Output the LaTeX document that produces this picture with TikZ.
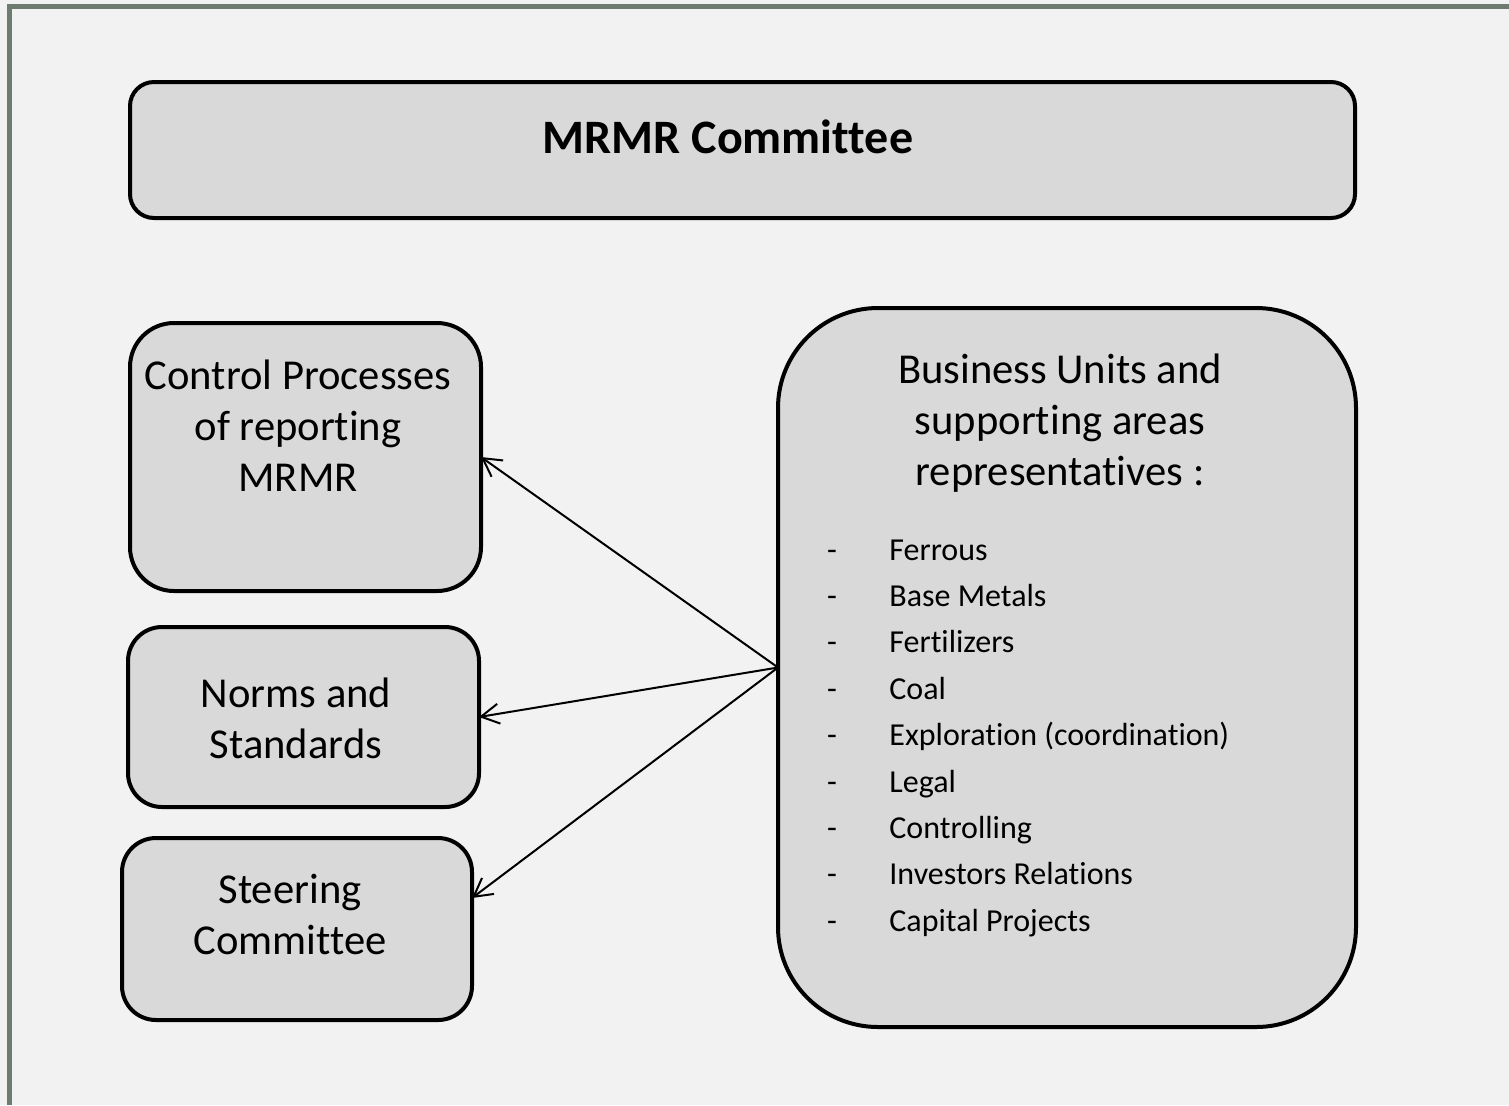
\documentclass[tikz,border=0pt]{standalone}
\usepackage{fontspec}
\setmainfont{Carlito}[Ligatures=NoCommon]
\usetikzlibrary{arrows.meta}
\definecolor{bgc}{HTML}{F2F2F2}
\definecolor{boxc}{HTML}{D9D9D9}
\definecolor{framec}{HTML}{6E7B70}
\tikzset{
  box/.style={draw=black, fill=boxc, line width=2pt, inner sep=0pt, outer sep=0pt},
  big/.style={font=\fontsize{21.3}{25.5}\selectfont, align=center, inner sep=0pt, anchor=north},
  item/.style={font=\fontsize{16}{19}\selectfont, anchor=base west, inner sep=0pt},
  dashitem/.style={font=\fontsize{16}{19}\selectfont, anchor=base, inner sep=0pt},
  conn/.style={line width=1pt, -{Straight Barb[length=9pt,width=10pt,line width=1pt]}},
}
\begin{document}
\begin{tikzpicture}[x=0.5pt,y=-0.5pt]
\useasboundingbox (0,0) rectangle (1509,1105);
\fill[bgc] (0,0) rectangle (1509,1105);
\draw[framec, line width=2.5pt] (9.5,1105) -- (9.5,6.5) -- (1509,6.5);
% boxes
\node[box, rounded corners=12pt, minimum width=612.5pt, minimum height=68pt] (top) at (742.5,150) {};
\node[box, rounded corners=22pt, minimum width=175.5pt, minimum height=134pt] (ctrl) at (305.5,457) {};
\node[box, rounded corners=17pt, minimum width=175.5pt, minimum height=90pt] (norms) at (303.5,717) {};
\node[box, rounded corners=17pt, minimum width=175pt, minimum height=91pt] (steer) at (297,929) {};
\node[box, rounded corners=50pt, minimum width=289pt, minimum height=359.5pt] (bu) at (1067,667.5) {};
% texts
\node[font=\fontsize{24}{29}\selectfont\bfseries, inner sep=0pt] (ttl) at (728,137) {MRMR Committee};
\node[big] (ctxt) at (298,360) {Control Processes\\of reporting\\MRMR};
\node[big] (ntxt) at (296,678) {Norms and\\Standards};
\node[big] (stxt) at (290,874) {Steering\\Committee};
\node[big] (btxt) at (1060,354) {Business Units and\\supporting areas\\representatives :};
\foreach \t [count=\i from 0] in {Ferrous,Base Metals,Fertilizers,Coal,Exploration (coordination),Legal,Controlling,Investors Relations,Capital Projects}{
  \node[dashitem] (d\i) at (832,560+46.4*\i) {-};
  \node[item] (it\i) at (889,560+46.4*\i) {\t};
}
% connectors
\coordinate (s3) at (472,898);
\draw[conn] (bu.west) -- (ctrl.east);
\draw[conn] (bu.west) -- (norms.east);
\draw[conn] (bu.west) -- (s3);
\end{tikzpicture}
\end{document}
